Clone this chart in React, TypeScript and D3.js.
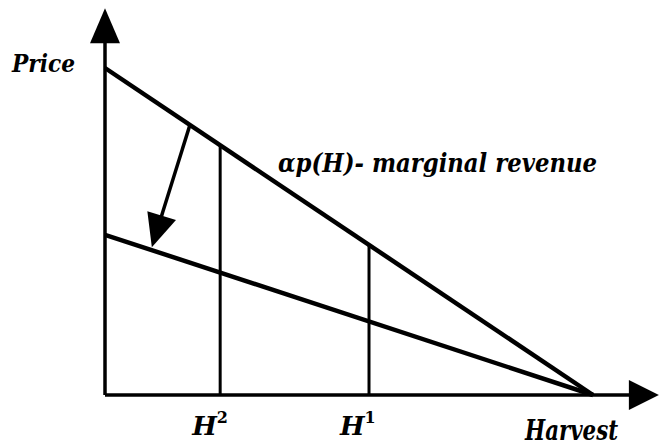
import React from "react";
import * as d3 from "d3";

const W = 660;
const H = 446;

// Harvest (x) and price (y) in arbitrary units
const demandLine = [
  { h: 0, p: 100 },
  { h: 100, p: 0 },
];
const shiftedLine = [
  { h: 0, p: 49 },
  { h: 100, p: 0 },
];
const harvestMarks = [
  { name: "H", sup: "2", h: 23.6 },
  { name: "H", sup: "1", h: 54.1 },
];
const shiftArrow = { fromH: 17.4, toH: 9.6 };
const axisMax = { h: 113.5, p: 118.3 };

const x = d3.scaleLinear().domain([0, 100]).range([105, 593]);
const y = d3.scaleLinear().domain([0, 100]).range([395, 68]);

const priceAt = (line: { h: number; p: number }[], h: number) => {
  const f = d3.scaleLinear().domain([line[0].h, line[1].h]).range([line[0].p, line[1].p]);
  return f(h);
};

const lineGen = d3
  .line<{ h: number; p: number }>()
  .x((d) => x(d.h))
  .y((d) => y(d.p));

function arrowHead(x1: number, y1: number, x2: number, y2: number, len: number, half: number) {
  const dx = x2 - x1;
  const dy = y2 - y1;
  const L = Math.hypot(dx, dy);
  const ux = dx / L;
  const uy = dy / L;
  const bx = x2 - ux * len;
  const by = y2 - uy * len;
  const px = -uy;
  const py = ux;
  return `M${x2},${y2}L${bx + px * half},${by + py * half}L${bx - px * half},${by - py * half}Z`;
}

export default function App() {
  const font = "'DejaVu Serif', serif";
  const x0 = x(0);
  const y0 = y(0);
  const yTop = y(axisMax.p);
  const xRight = x(axisMax.h);

  const a1x = x(shiftArrow.fromH);
  const a1y = y(priceAt(demandLine, shiftArrow.fromH));
  const a2x = x(shiftArrow.toH);
  const a2y = y(priceAt(shiftedLine, shiftArrow.toH)) - 3;
  const dx = a2x - a1x;
  const dy = a2y - a1y;
  const L = Math.hypot(dx, dy);
  const shaftEndX = a2x - (dx / L) * 26;
  const shaftEndY = a2y - (dy / L) * 26;

  const textStyle = {
    fontFamily: font,
    fontStyle: "italic",
    fontWeight: 700,
  } as React.CSSProperties;

  return (
    <svg
      width={W}
      height={H}
      style={{ position: "absolute", left: 0, top: 0, background: "#fff" }}
    >
      {/* axes */}
      <line x1={x0} y1={y0} x2={x0} y2={yTop + 30} stroke="#000" strokeWidth={3.5} />
      <line x1={x0} y1={y0} x2={xRight - 25} y2={y0} stroke="#000" strokeWidth={3.5} />
      <path d={arrowHead(x0, y0, x0, yTop, 35, 15)} fill="#000" />
      <path d={arrowHead(x0, y0, xRight, y0, 30, 15)} fill="#000" />

      {/* lines */}
      <path d={lineGen(demandLine) || ""} stroke="#000" strokeWidth={4.5} fill="none" />
      <path d={lineGen(shiftedLine) || ""} stroke="#000" strokeWidth={4.5} fill="none" />

      {/* harvest verticals */}
      {harvestMarks.map((m, i) => (
        <line
          key={i}
          x1={x(m.h)}
          x2={x(m.h)}
          y1={y(priceAt(demandLine, m.h))}
          y2={y0}
          stroke="#000"
          strokeWidth={3}
        />
      ))}

      {/* shift arrow */}
      <line x1={a1x} y1={a1y} x2={shaftEndX} y2={shaftEndY} stroke="#000" strokeWidth={3.5} />
      <path d={arrowHead(a1x, a1y, a2x, a2y, 33, 15)} fill="#000" />

      {/* labels */}
      <text x={12} y={72} style={textStyle} fontSize={24} textLength={63} lengthAdjust="spacingAndGlyphs">
        Price
      </text>
      <text x={278} y={172} style={textStyle} fontSize={26} textLength={319} lengthAdjust="spacingAndGlyphs">
        αp(H)- marginal revenue
      </text>
      {harvestMarks.map((m, i) => (
        <text key={i} x={x(m.h) - 28 + (i === 1 ? -1 : 0)} y={435} style={textStyle} fontSize={26}>
          {m.name}
          <tspan dy={-12} fontSize={16} fontStyle="normal">
            {m.sup}
          </tspan>
        </text>
      ))}
      <text x={525} y={440} style={textStyle} fontSize={27} textLength={93} lengthAdjust="spacingAndGlyphs">
        Harvest
      </text>
    </svg>
  );
}
